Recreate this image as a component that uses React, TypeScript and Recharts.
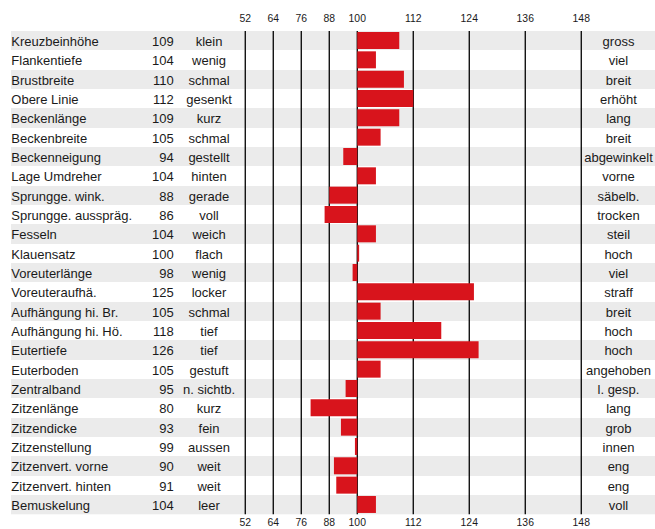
import React from 'react';
import { BarChart, Bar, XAxis, YAxis, CartesianGrid } from 'recharts';

const traits = [
  'Kreuzbeinhöhe', 'Flankentiefe', 'Brustbreite', 'Obere Linie', 'Beckenlänge',
  'Beckenbreite', 'Beckenneigung', 'Lage Umdreher', 'Sprungge. wink.', 'Sprungge. ausspräg.',
  'Fesseln', 'Klauensatz', 'Voreuterlänge', 'Voreuteraufhä.', 'Aufhängung hi. Br.',
  'Aufhängung hi. Hö.', 'Eutertiefe', 'Euterboden', 'Zentralband', 'Zitzenlänge',
  'Zitzendicke', 'Zitzenstellung', 'Zitzenvert. vorne', 'Zitzenvert. hinten', 'Bemuskelung',
];
const values = [
  109, 104, 110, 112, 109,
  105, 94, 104, 88, 86,
  104, 100.4, 98, 125, 105,
  118, 126, 105, 95, 80,
  93, 99, 90, 91, 104,
];
const lowLabels = [
  'klein', 'wenig', 'schmal', 'gesenkt', 'kurz',
  'schmal', 'gestellt', 'hinten', 'gerade', 'voll',
  'weich', 'flach', 'wenig', 'locker', 'schmal',
  'tief', 'tief', 'gestuft', 'n. sichtb.', 'kurz',
  'fein', 'aussen', 'weit', 'weit', 'leer',
];
const highLabels = [
  'gross', 'viel', 'breit', 'erhöht', 'lang',
  'breit', 'abgewinkelt', 'vorne', 'säbelb.', 'trocken',
  'steil', 'hoch', 'viel', 'straff', 'breit',
  'hoch', 'hoch', 'angehoben', 'l. gesp.', 'lang',
  'grob', 'innen', 'eng', 'eng', 'voll',
];
const tickValues = [52, 64, 76, 88, 100, 112, 124, 136, 148];

// left of 100 the scale is compressed by half
const toAxis = (v: number) => (v < 100 ? 100 - (100 - v) / 2 : v);
const fromAxis = (v: number) => (v < 100 ? Math.round(100 - (100 - v) * 2) : Math.round(v));

const data = traits.map((name, i) => ({
  name,
  value: values[i],
  low: lowLabels[i],
  high: highLabels[i],
  range: [100, toAxis(values[i])],
}));
const axisTicks = tickValues.map(toAxis);

const FONT = "'Liberation Sans', Arial, Helvetica, sans-serif";
const TEXT = '#1a1a1a';

function RowTick(props: any) {
  const { x, y, payload } = props;
  const row = data.find((d) => d.name === payload.value);
  if (!row) return <g />;
  const by = y + 5.3;
  const common = { fontSize: 13, fill: TEXT, fontFamily: FONT };
  return (
    <g>
      <text x={x + 0.3} y={by} {...common}>{row.name}</text>
      <text x={x + 162.7} y={by} textAnchor="end" {...common}>{Math.round(row.value)}</text>
      <text x={x + 198} y={by} textAnchor="middle" {...common}>{row.low}</text>
      <text x={x + 607.5} y={by} textAnchor="middle" {...common}>{row.high}</text>
    </g>
  );
}

export default function App() {
  const tickStyle = { fontSize: 10.4, fill: TEXT, fontFamily: FONT };
  return (
    <div style={{ position: 'absolute', left: 0, top: 0, width: 655, height: 529, background: '#fff' }}>
      <BarChart
        width={655}
        height={529}
        data={data}
        layout="vertical"
        margin={{ top: 0, right: 0, bottom: 0, left: 10 }}
        barSize={17}
      >
        <CartesianGrid
          xAxisId="bottom"
          yAxisId="rows"
          stroke="#000"
          strokeWidth={1.3}
          syncWithTicks
          horizontalFill={['#ebebeb', '#ffffff']}
          horizontal={(p: any) => <line key={p.key} x1={p.x1} y1={p.y1} x2={p.x2} y2={p.y2} stroke="none" />}
          horizontalCoordinatesGenerator={({ offset }: any) =>
            data.map((_, i) => offset.top + (i * offset.height) / data.length)
          }
        />
        <XAxis
          xAxisId="top"
          orientation="top"
          type="number"
          domain={[25.8, 163.8]}
          allowDataOverflow
          ticks={axisTicks}
          interval={0}
          tickFormatter={fromAxis}
          height={31}
          axisLine={false}
          tickLine={false}
          tickSize={0}
          tickMargin={8.7}
          tick={tickStyle}
        />
        <XAxis
          xAxisId="bottom"
          orientation="bottom"
          type="number"
          domain={[25.8, 163.8]}
          allowDataOverflow
          ticks={axisTicks}
          interval={0}
          tickFormatter={fromAxis}
          height={14.7}
          axisLine={false}
          tickLine={false}
          tickSize={0}
          tickMargin={4}
          tick={tickStyle}
        />
        <YAxis
          yAxisId="rows"
          type="category"
          dataKey="name"
          width={1}
          axisLine={false}
          tickLine={false}
          tickSize={0}
          tickMargin={0}
          interval={0}
          tick={(p: any) => <RowTick {...p} />}
        />
        <Bar
          xAxisId="bottom"
          yAxisId="rows"
          dataKey="range"
          fill="#d8141c"
          isAnimationActive={false}
        />
      </BarChart>
    </div>
  );
}
